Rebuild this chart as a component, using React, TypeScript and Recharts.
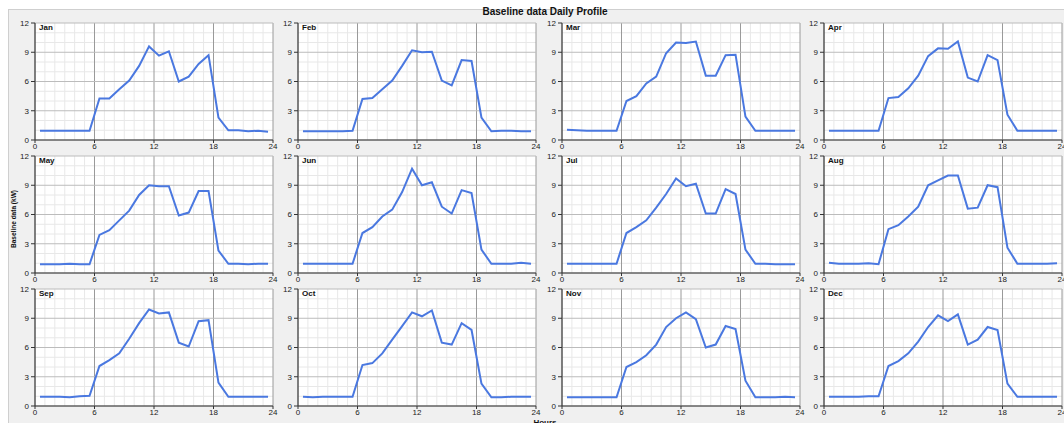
import { LineChart, Line, XAxis, YAxis, CartesianGrid } from 'recharts';

const HOURS = [
  0.5, 1.5, 2.5, 3.5, 4.5, 5.5, 6.5, 7.5, 8.5, 9.5, 10.5, 11.5,
  12.5, 13.5, 14.5, 15.5, 16.5, 17.5, 18.5, 19.5, 20.5, 21.5, 22.5, 23.5,
];

const MONTHS = ['Jan', 'Feb', 'Mar', 'Apr', 'May', 'Jun', 'Jul', 'Aug', 'Sep', 'Oct', 'Nov', 'Dec'];

const JAN = [0.95, 0.95, 0.95, 0.95, 0.95, 0.95, 4.25, 4.25, 5.2, 6.1, 7.6, 9.6, 8.65, 9.1, 6.0, 6.5, 7.8, 8.7, 2.3, 1.0, 1.0, 0.9, 0.95, 0.85];
const FEB = [0.9, 0.9, 0.9, 0.9, 0.9, 0.95, 4.2, 4.3, 5.2, 6.1, 7.6, 9.2, 9.0, 9.05, 6.1, 5.6, 8.2, 8.1, 2.3, 0.9, 0.95, 0.95, 0.9, 0.9];
const MAR = [1.05, 1.0, 0.95, 0.95, 0.95, 0.95, 4.0, 4.5, 5.8, 6.5, 8.9, 10.0, 9.95, 10.1, 6.6, 6.6, 8.7, 8.75, 2.4, 0.95, 0.95, 0.95, 0.95, 0.95];
const APR = [0.95, 0.95, 0.95, 0.95, 0.95, 0.95, 4.3, 4.4, 5.3, 6.6, 8.6, 9.4, 9.35, 10.1, 6.4, 6.0, 8.7, 8.2, 2.6, 0.95, 0.95, 0.95, 0.95, 0.95];
const MAY = [0.9, 0.9, 0.9, 0.95, 0.9, 0.9, 3.9, 4.4, 5.4, 6.4, 8.0, 9.0, 8.9, 8.9, 5.9, 6.2, 8.4, 8.4, 2.3, 0.95, 0.95, 0.9, 0.95, 0.95];
const JUN = [0.95, 0.95, 0.95, 0.95, 0.95, 0.95, 4.1, 4.7, 5.8, 6.5, 8.3, 10.7, 9.0, 9.3, 6.8, 6.1, 8.5, 8.2, 2.4, 0.95, 0.95, 0.95, 1.05, 0.95];
const JUL = [0.95, 0.95, 0.95, 0.95, 0.95, 0.95, 4.1, 4.7, 5.4, 6.7, 8.1, 9.7, 8.9, 9.15, 6.1, 6.1, 8.6, 8.1, 2.4, 0.95, 0.95, 0.9, 0.9, 0.9];
const AUG = [1.05, 0.95, 0.95, 0.95, 1.0, 0.9, 4.5, 4.9, 5.8, 6.8, 9.0, 9.5, 10.0, 10.0, 6.6, 6.7, 9.0, 8.8, 2.6, 0.95, 0.95, 0.95, 0.95, 1.0];
const SEP = [0.95, 0.95, 0.95, 0.9, 1.0, 1.05, 4.1, 4.7, 5.4, 6.9, 8.5, 9.9, 9.5, 9.6, 6.5, 6.1, 8.7, 8.8, 2.4, 0.95, 0.95, 0.95, 0.95, 0.95];
const OCT = [0.95, 0.9, 0.95, 0.95, 0.95, 0.95, 4.2, 4.4, 5.4, 6.8, 8.2, 9.6, 9.2, 9.8, 6.5, 6.3, 8.5, 7.8, 2.3, 0.9, 0.9, 0.95, 0.95, 0.95];
const NOV = [0.9, 0.9, 0.9, 0.9, 0.9, 0.9, 4.0, 4.5, 5.2, 6.3, 8.1, 9.0, 9.6, 8.9, 6.0, 6.3, 8.2, 7.9, 2.6, 0.9, 0.9, 0.9, 0.95, 0.9];
const DEC = [0.95, 0.95, 0.95, 0.95, 1.0, 1.0, 4.1, 4.6, 5.4, 6.6, 8.1, 9.3, 8.7, 9.4, 6.3, 6.8, 8.1, 7.8, 2.3, 0.95, 0.95, 0.95, 0.95, 0.95];

const SERIES = [JAN, FEB, MAR, APR, MAY, JUN, JUL, AUG, SEP, OCT, NOV, DEC];

const X_TICKS = [0, 6, 12, 18, 24];
const Y_TICKS = [0, 3, 6, 9, 12];
const X_MINOR = [1, 2, 3, 4, 5, 7, 8, 9, 10, 11, 13, 14, 15, 16, 17, 19, 20, 21, 22, 23];
const Y_MINOR = [1, 2, 4, 5, 7, 8, 10, 11];

// plot-area corners (left edge of each column, top edge of each row)
const COL_X = [35, 298, 562, 824];
const ROW_Y = [23, 156, 289];
const PLOT_W = 238;
const PLOT_H = 117;
const AXIS_W = 22;
const AXIS_H = 14;
const M_TOP = 6;
const M_RIGHT = 6;

const FONT = '"Liberation Sans", Arial, sans-serif';
const TICK = { fontSize: 8, fill: '#222', fontFamily: FONT };

function Panel({ month, values, left, top }: { month: string; values: number[]; left: number; top: number }) {
  const data = HOURS.map((h, i) => ({ h, v: values[i] }));
  return (
    <div style={{ position: 'absolute', left: left - AXIS_W, top: top - M_TOP }}>
      <LineChart
        width={AXIS_W + PLOT_W + M_RIGHT}
        height={M_TOP + PLOT_H + AXIS_H}
        data={data}
        margin={{ top: M_TOP, right: M_RIGHT, bottom: 0, left: 0 }}
      >
        <CartesianGrid verticalValues={X_MINOR} horizontalValues={Y_MINOR} stroke="#e8e8e8" fill="#ffffff" />
        <CartesianGrid horizontal={false} stroke="#9a9a9a" />
        <CartesianGrid vertical={false} stroke="#bcbcbc" />
        <XAxis
          type="number"
          dataKey="h"
          domain={[0, 24]}
          ticks={X_TICKS}
          interval={0}
          height={AXIS_H}
          tickSize={3}
          tickMargin={0}
          tick={TICK}
          stroke="#333"
        />
        <YAxis
          type="number"
          domain={[0, 12]}
          ticks={Y_TICKS}
          interval={0}
          width={AXIS_W}
          tickSize={4}
          tickMargin={2}
          tick={TICK}
          stroke="#333"
        />
        <Line
          type="linear"
          dataKey="v"
          stroke="#4a78e0"
          strokeWidth={2}
          dot={false}
          isAnimationActive={false}
        />
      </LineChart>
      <div
        style={{
          position: 'absolute',
          left: AXIS_W + 4,
          top: M_TOP + 1,
          fontSize: 8,
          lineHeight: '8px',
          fontWeight: 'bold',
          fontFamily: FONT,
          color: '#111',
        }}
      >
        {month}
      </div>
    </div>
  );
}

export default function App() {
  return (
    <div
      style={{
        position: 'absolute',
        left: 0,
        top: 0,
        width: 1064,
        height: 423,
        overflow: 'hidden',
        background: '#ffffff',
        fontFamily: FONT,
      }}
    >
      <div
        style={{
          position: 'absolute',
          left: 8,
          top: 9,
          right: 0,
          bottom: 0,
          background: '#f0f0f0',
          borderTop: '1px solid #cfcfcf',
          borderLeft: '1px solid #cfcfcf',
        }}
      />
      <div
        style={{
          position: 'absolute',
          left: 395,
          top: 6,
          width: 300,
          textAlign: 'center',
          fontSize: 10,
          lineHeight: '12px',
          fontWeight: 'bold',
          color: '#111',
        }}
      >
        Baseline data Daily Profile
      </div>
      {MONTHS.map((m, i) => (
        <Panel key={m} month={m} values={SERIES[i]} left={COL_X[i % 4]} top={ROW_Y[Math.floor(i / 4)]} />
      ))}
      <svg style={{ position: 'absolute', left: 0, top: 0 }} width={30} height={423}>
        <text
          x={0}
          y={0}
          transform="translate(16 219) rotate(-90)"
          textAnchor="middle"
          fontSize={8}
          fontWeight="bold"
          fontFamily={FONT}
          fill="#111"
          textLength={58}
          lengthAdjust="spacingAndGlyphs"
        >
          Baseline data (kW)
        </text>
      </svg>
      <div
        style={{
          position: 'absolute',
          left: 495,
          top: 418,
          width: 100,
          textAlign: 'center',
          fontSize: 8,
          lineHeight: '10px',
          fontWeight: 'bold',
          color: '#111',
        }}
      >
        Hours
      </div>
    </div>
  );
}
